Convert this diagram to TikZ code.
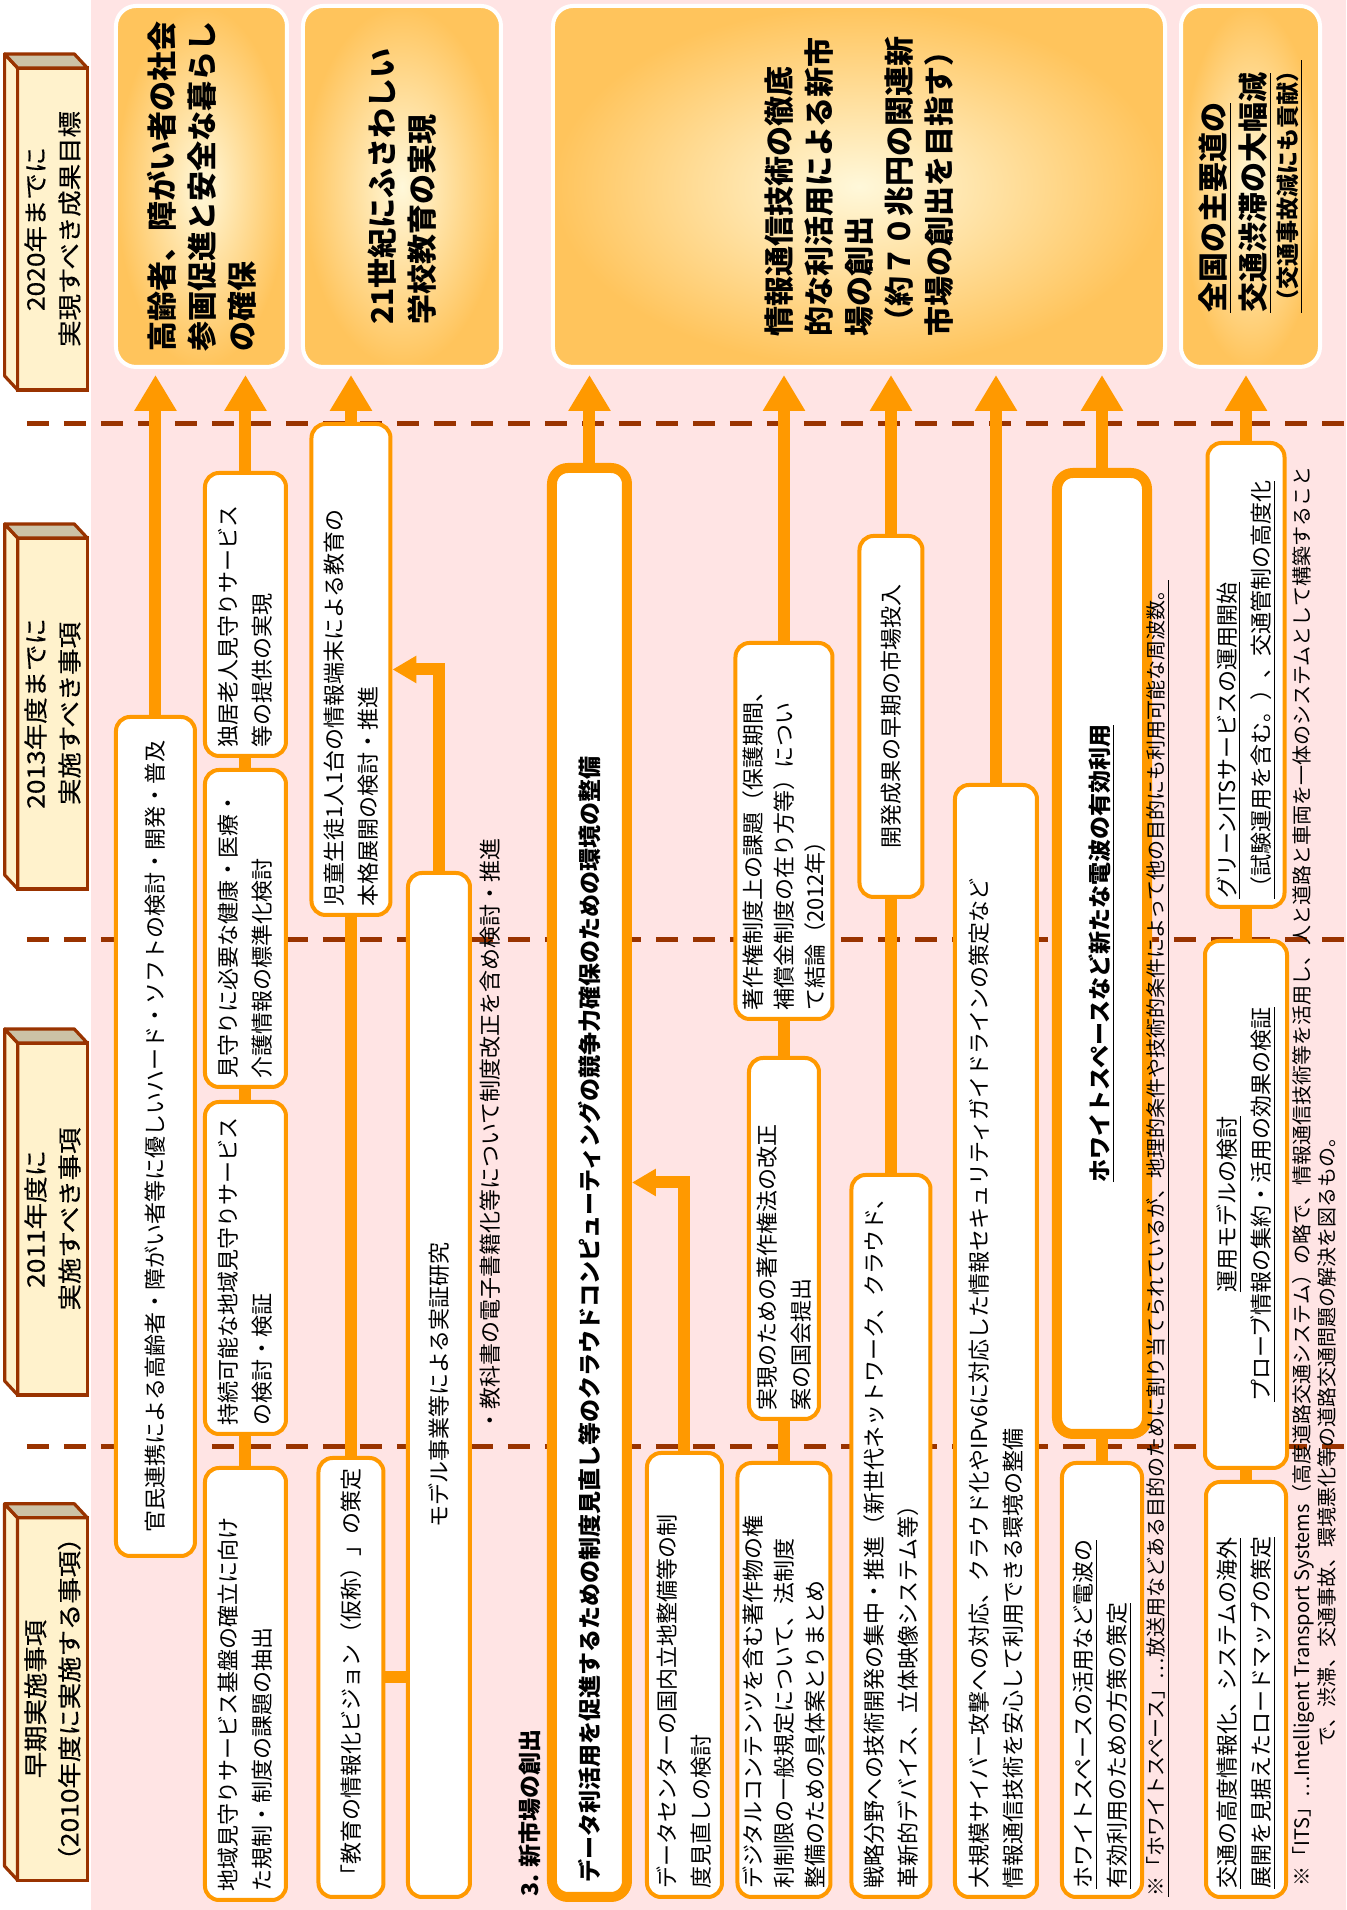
\documentclass[tikz,border=0pt]{standalone}
\usepackage{fontspec}
\setmainfont{Noto Sans CJK JP}
\newfontfamily\hdrfont{Noto Sans CJK JP}[FakeStretch=1.1, FakeBold=0.4]
\usetikzlibrary{arrows.meta}

\definecolor{roadorange}{RGB}{255,153,0}
\definecolor{roadbrown}{RGB}{153,51,0}
\definecolor{roadpink}{RGB}{255,228,228}
\definecolor{cubefront}{RGB}{255,242,204}
\definecolor{cubetan}{RGB}{204,194,166}
\definecolor{goalin}{RGB}{255,248,218}
\definecolor{goalout}{RGB}{255,196,92}

\begin{document}
\begin{tikzpicture}[x=0.5pt, y=0.5pt, rotate=90, transform shape,
    item/.style={draw=roadorange, line width=2pt, fill=white, rounded corners=7pt, inner sep=3pt, align=left, font=\fontsize{11}{17}\selectfont},
    keyitem/.style={item, line width=5pt, rounded corners=8pt, font=\bfseries\fontsize{11.5}{17}\selectfont},
    goal/.style={draw=white, line width=2pt, rounded corners=10pt, inner color=goalin, outer color=goalout, align=left, minimum width=180.5pt, font=\bfseries\fontsize{15}{20}\selectfont},
    period/.style={draw=roadbrown, line width=1.6pt, fill=cubefront, outer sep=0pt, minimum height=34.5pt, align=center, font=\hdrfont\fontsize{12}{17}\selectfont},
    cubetop/.style={draw=roadbrown, line width=1.6pt, fill=cubefront, line join=round},
    cubeside/.style={draw=roadbrown, line width=1.6pt, fill=cubetan, line join=round},
    note/.style={align=left, anchor=west, inner sep=0pt, font=\fontsize{10}{12}\selectfont},
    flow/.style={draw=roadorange, line width=6pt},
    goalarrow/.style={flow, -{Triangle[width=20pt,length=18pt]}, shorten >=3pt},
    sidearrow/.style={flow, -{Triangle[width=13pt,length=12pt]}},
    divider/.style={draw=roadbrown, line width=2.5pt, dash pattern=on 11pt off 7.5pt}]

    \useasboundingbox (0,0) rectangle (1910,1346);
    \fill[roadpink] (0,0) rectangle (1910,1255);

    % year separators
    \draw[divider] (1486,1319) -- (1486,0);
    \draw[divider] (970,1319) -- (970,0);
    \draw[divider] (463,1319) -- (463,0);

    % period headers
    \node[period, minimum width=181pt] (early) at (211,1293.5) {早期実施事項\\（2010年度に実施する事項）};
    \node[period, minimum width=176pt] (yr2011) at (691,1293.5) {2011年度に\\実施すべき事項};
    \node[period, minimum width=175.5pt] (yr2013) at (1196.5,1293.5) {2013年度までに\\実施すべき事項};
    \node[period, minimum width=161pt] (yr2020) at (1681,1293.5) {2020年までに\\実現すべき成果目標};
    \draw[cubetop] (early.north west) -- ++(14,13) -- ([shift={(14,13)}]early.north east) -- (early.north east) -- cycle;
    \draw[cubeside] (early.north east) -- ++(14,13) -- ([shift={(14,13)}]early.south east) -- (early.south east) -- cycle;
    \draw[cubetop] (yr2011.north west) -- ++(14,13) -- ([shift={(14,13)}]yr2011.north east) -- (yr2011.north east) -- cycle;
    \draw[cubeside] (yr2011.north east) -- ++(14,13) -- ([shift={(14,13)}]yr2011.south east) -- (yr2011.south east) -- cycle;
    \draw[cubetop] (yr2013.north west) -- ++(14,13) -- ([shift={(14,13)}]yr2013.north east) -- (yr2013.north east) -- cycle;
    \draw[cubeside] (yr2013.north east) -- ++(14,13) -- ([shift={(14,13)}]yr2013.south east) -- (yr2013.south east) -- cycle;
    \draw[cubetop] (yr2020.north west) -- ++(14,13) -- ([shift={(14,13)}]yr2020.north east) -- (yr2020.north east) -- cycle;
    \draw[cubeside] (yr2020.north east) -- ++(14,13) -- ([shift={(14,13)}]yr2020.south east) -- (yr2020.south east) -- cycle;

    % goals
    \node[goal, minimum height=85.5pt] (goalA) at (1723.5,1144.5) {高齢者、障がい者の社会\\参画促進と安全な暮らし\\の確保};
    \node[goal, minimum height=99pt] (goalB) at (1723.5,944) {21世紀にふさわしい\\学校教育の実現};
    \node[goal, minimum height=306pt] (goalC) at (1723.5,487) {情報通信技術の徹底\\的な利活用による新市\\場の創出\\（約７０兆円の関連新\\市場の創出を目指す）};
    \node[goal, minimum height=69.5pt] (goalD) at (1723.5,95.5) {\underline{全国の主要道の}\\\underline{交通渋滞の大幅減}\\[-4pt]{\fontsize{11.5}{14}\selectfont\underline{（交通事故減にも貢献）}}};

    % elderly care
    \node[item, minimum width=419.5pt, minimum height=39.5pt, text width=411.5pt, align=center] (care1) at (773.5,1190.5) {官民連携による高齢者・障がい者等に優しいハード・ソフトの検討・開発・普及};
    \node[item, minimum width=216pt, minimum height=40.5pt, text width=208pt] (care2) at (226,1100.5) {地域見守りサービス基盤の確立に向け\\た規制・制度の課題の抽出};
    \node[item, minimum width=166pt, minimum height=40.5pt, text width=158pt] (care3) at (642,1100.5) {持続可能な地域見守りサービス\\の検討・検証};
    \node[item, minimum width=158.5pt, minimum height=40.5pt, text width=150.5pt] (care4) at (981.5,1100.5) {見守りに必要な健康・医療・\\介護情報の標準化検討};
    \node[item, minimum width=141.5pt, minimum height=40.5pt, text width=133.5pt] (care5) at (1295.5,1100.5) {独居老人見守りサービス\\等の提供の実現};

    % school education
    \node[item, minimum width=245.5pt, minimum height=39.5pt, text width=237.5pt] (jidou) at (1240.5,995) {児童生徒1人1台の情報端末による教育の\\本格展開の検討・推進};
    \node[item, minimum width=219.5pt, minimum height=32.5pt, text width=211.5pt, align=center] (vision) at (232.5,995) {「教育の情報化ビジョン（仮称）」の策定};
    \node[item, minimum width=512pt, minimum height=31pt, text width=504pt, align=center] (model) at (525,907) {モデル事業等による実証研究};
    \node[note, font=\fontsize{11}{13}\selectfont] (ebook) at (478,856) {・教科書の電子書籍化等について制度改正を含め検討・推進};

    % new markets
    \node[note, font=\bfseries\fontsize{11.5}{13}\selectfont] (market) at (13,816) {3. 新市場の創出};
    \node[keyitem, minimum width=714.5pt, minimum height=37.5pt, text width=700pt] (data) at (727.5,756.5) {データ利活用を促進するための制度見直し等のクラウドコンピューティングの競争力確保のための環境の整備};
    \node[item, minimum width=222pt, minimum height=37.5pt, text width=214pt] (dc) at (235,661.5) {データセンターの国内立地整備等の制\\度見直しの検討};
    \node[item, minimum width=217pt, minimum height=46.5pt, text width=209pt, inner ysep=1pt, font=\fontsize{11}{15.5}\selectfont] (digi) at (230,562) {デジタルコンテンツを含む著作物の権\\利制限の一般規定について、法制度\\整備のための具体案とりまとめ};
    \node[item, minimum width=180.5pt, minimum height=35pt, text width=172.5pt] (law) at (671.5,562) {実現のための著作権法の改正\\案の国会提出};
    \node[item, minimum width=188pt, minimum height=48.5pt, text width=180pt, inner ysep=1pt, font=\fontsize{11}{15.5}\selectfont] (copy) at (1079,562) {著作権制度上の課題（保護期間、\\補償金制度の在り方等）につい\\て結論（2012年）};
    \node[item, minimum width=361pt, minimum height=39.5pt, text width=353pt] (tech) at (374,455) {戦略分野への技術開発の集中・推進（新世代ネットワーク、クラウド、\\革新的デバイス、立体映像システム等）};
    \node[item, minimum width=180.5pt, minimum height=31.5pt, text width=172.5pt, align=center] (dev) at (1193.5,455) {開発成果の早期の市場投入};
    \node[item, minimum width=556pt, minimum height=41pt, text width=548pt] (cyber) at (569,350) {大規模サイバー攻撃への対応、クラウド化やIPv6に対応した情報セキュリティガイドラインの策定など\\情報通信技術を安心して利用できる環境の整備};
    \node[item, minimum width=217pt, minimum height=40pt, text width=209pt] (wsplan) at (230,244) {\underline{ホワイトスペースの活用など電波の}\\\underline{有効利用のための方策の策定}};
    \node[keyitem, minimum width=480.5pt, minimum height=45pt, text width=472.5pt, align=center] (wsuse) at (956.5,244) {\underline{ホワイトスペースなど新たな電波の有効利用}};
    \node[note] (wsnote) at (13,188) {\underline{※「ホワイトスペース」…放送用などある目的のために割り当てられているが、地理的条件や技術的条件によって他の目的にも利用可能な周波数。}};

    % ITS
    \node[item, minimum width=207.5pt, minimum height=40pt, text width=199.5pt] (its1) at (220.5,100) {\underline{交通の高度情報化、システムの海外}\\\underline{展開を見据えたロードマップの策定}};
    \node[item, minimum width=263.5pt, minimum height=41pt, text width=255.5pt, align=center] (its2) at (705.5,100) {\underline{運用モデルの検討}\\\underline{プローブ情報の集約・活用の効果の検証}};
    \node[item, minimum width=232pt, minimum height=38.5pt, text width=224pt] (its3) at (1235,100) {\underline{グリーンITSサービスの運用開始}\\\underline{（試験運用を含む。）、交通管制の高度化}};
    \node[note] (itsnote) at (23,43) {※「ITS」…Intelligent Transport Systems（高度道路交通システム）の略で、情報通信技術等を活用し、人と道路と車両を一体のシステムとして構築すること};
    \node[note] (itsnote2) at (163,19) {で、渋滞、交通事故、環境悪化等の道路交通問題の解決を図るもの。};

    % connectors
    \draw[goalarrow] (care1.east) -- (care1.east -| goalA.west);
    \draw[flow] (care2.east) -- (care3.west);
    \draw[flow] (care3.east) -- (care4.west);
    \draw[flow] (care4.east) -- (care5.west);
    \draw[goalarrow] (care5.east) -- (care5.east -| goalA.west);

    \draw[flow] (vision.east) -- (jidou.west);
    \draw[flow] (vision.south) -- (vision.south |- model.north);
    \draw[sidearrow] (model.east) -| (jidou.south);
    \draw[goalarrow] (jidou.east) -- (jidou.east -| goalB.west);

    \draw[sidearrow] (dc.east) -| (data.south);
    \draw[goalarrow] (data.east) -- (data.east -| goalC.west);
    \draw[flow] (digi.east) -- (law.west);
    \draw[flow] (law.east) -- (copy.west);
    \draw[goalarrow] (copy.east) -- (copy.east -| goalC.west);
    \draw[flow] (tech.east) -- (dev.west);
    \draw[goalarrow] (dev.east) -- (dev.east -| goalC.west);
    \draw[goalarrow] (cyber.east) -- (cyber.east -| goalC.west);
    \draw[flow] (wsplan.east) -- (wsuse.west);
    \draw[goalarrow] (wsuse.east) -- (wsuse.east -| goalC.west);

    \draw[flow] (its1.east) -- (its2.west);
    \draw[flow] (its2.east) -- (its3.west);
    \draw[goalarrow] (its3.east) -- (its3.east -| goalD.west);
\end{tikzpicture}
\end{document}
